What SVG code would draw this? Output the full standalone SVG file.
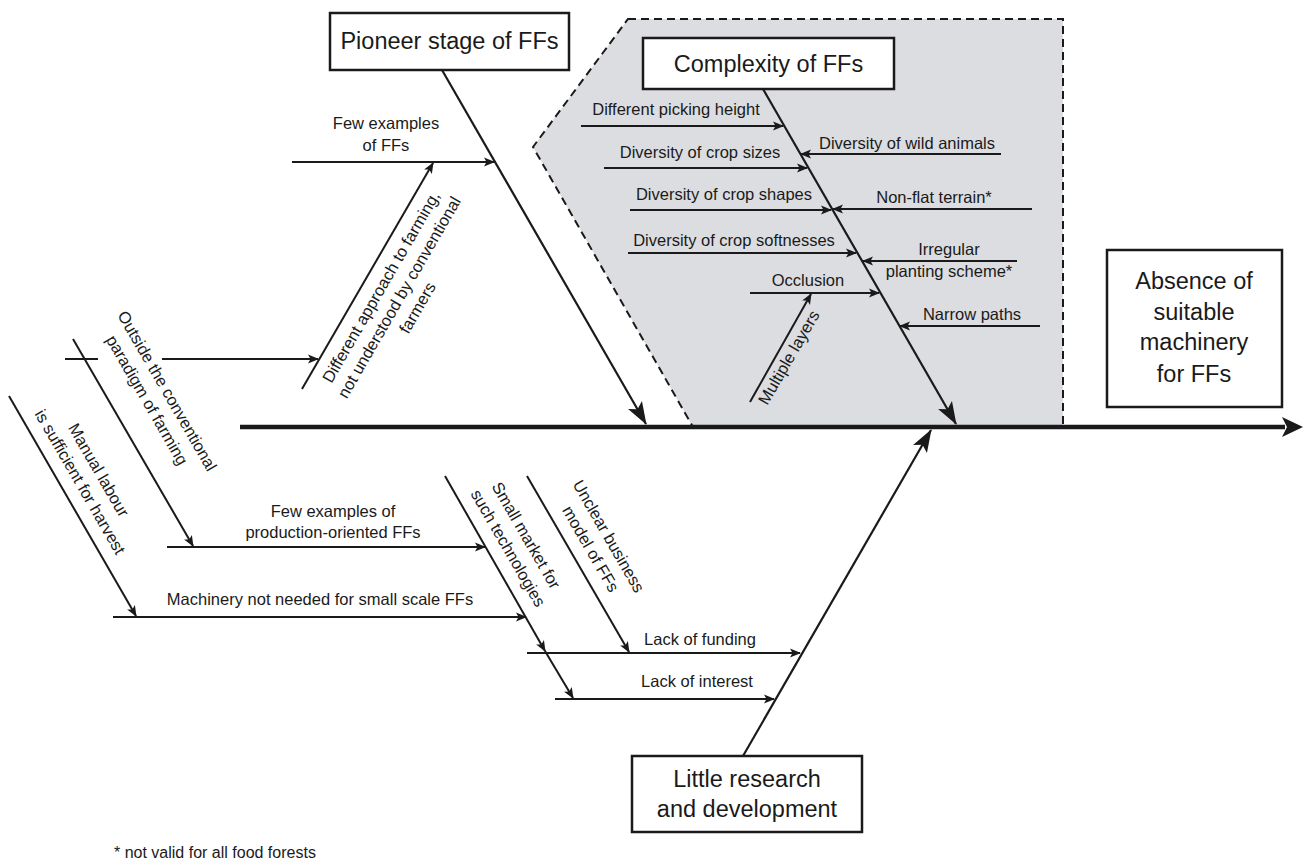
<svg xmlns="http://www.w3.org/2000/svg" width="1304" height="863" viewBox="0 0 1304 863">
<style>
text{font-family:"Liberation Sans",Arial,sans-serif;fill:#1a1a1a}
.lbl{font-size:16.5px;text-anchor:middle}
.big{font-size:23.5px;text-anchor:middle}
.ln{stroke:#1a1a1a;stroke-width:2;fill:none}
.bone{stroke:#1a1a1a;stroke-width:2.2;fill:none}
.box{fill:#fff;stroke:#1a1a1a;stroke-width:2.5}
.sm{marker-end:url(#sa)}
.bg{marker-end:url(#ba)}
</style>
<defs>
<marker id="sa" markerUnits="userSpaceOnUse" markerWidth="12" markerHeight="10" refX="10" refY="4.5" orient="auto" overflow="visible">
<path d="M0,0 L11,4.5 L0,9 L2.5,4.5 Z" fill="#1a1a1a"/>
</marker>
<marker id="ba" markerUnits="userSpaceOnUse" markerWidth="24" markerHeight="16" refX="22" refY="8" orient="auto" overflow="visible">
<path d="M0,0 L23,8 L0,16 L5,8 Z" fill="#1a1a1a"/>
</marker>
</defs>

<g id="complexity-area">
<polygon points="628,19 1063,19 1063,427 693,427 533,147" fill="#dcdde0" stroke="#1a1a1a" stroke-width="2" stroke-dasharray="8,5"/>
</g>

<g id="connectors">
<!-- main spine -->
<line x1="240" y1="427" x2="1285" y2="427" stroke="#1a1a1a" stroke-width="4.5"/>
<path d="M1282,417 L1303,427 L1282,437 L1287,427 Z" fill="#1a1a1a"/>
<!-- main bones -->
<line class="bone bg" x1="442" y1="70" x2="646" y2="424"/>
<line class="bone bg" x1="763" y1="89" x2="956" y2="424"/>
<line class="bone bg" x1="743" y1="756" x2="931" y2="430"/>
<!-- pioneer branches -->
<line class="ln sm" x1="292" y1="162" x2="494" y2="162"/>
<line class="ln sm" x1="302" y1="389" x2="433" y2="163"/>
<line class="ln" x1="65" y1="359" x2="98" y2="359"/>
<line class="ln sm" x1="162" y1="359" x2="318" y2="359"/>
<line class="ln sm" x1="73" y1="339" x2="193" y2="546"/>
<line class="ln sm" x1="9" y1="396" x2="136" y2="616"/>
<!-- complexity branches left -->
<line class="ln sm" x1="581" y1="126" x2="783" y2="126"/>
<line class="ln sm" x1="604" y1="168" x2="807" y2="168"/>
<line class="ln sm" x1="630" y1="210" x2="831" y2="210"/>
<line class="ln sm" x1="628" y1="253" x2="856" y2="253"/>
<line class="ln sm" x1="750" y1="293" x2="879" y2="293"/>
<line class="ln sm" x1="750" y1="402" x2="811" y2="294"/>
<!-- complexity branches right -->
<line class="ln sm" x1="1001" y1="154" x2="801" y2="154"/>
<line class="ln sm" x1="1032" y1="209" x2="833" y2="209"/>
<line class="ln sm" x1="1017" y1="261" x2="863" y2="261"/>
<line class="ln sm" x1="1040" y1="326" x2="900" y2="326"/>
<!-- lower branches -->
<line class="ln sm" x1="167" y1="547" x2="485" y2="547"/>
<line class="ln sm" x1="113" y1="617" x2="526" y2="617"/>
<line class="ln sm" x1="445" y1="476" x2="545" y2="651"/>
<line class="ln sm" x1="545" y1="651" x2="573" y2="698"/>
<line class="ln sm" x1="527" y1="476" x2="629" y2="652"/>
<line class="ln sm" x1="527" y1="653" x2="800" y2="653"/>
<line class="ln sm" x1="555" y1="699" x2="774" y2="699"/>
</g>

<g id="pioneer-stage">
<rect class="box" x="330" y="13" width="239" height="57"/>
<text class="big" x="449.5" y="48.5">Pioneer stage of FFs</text>
</g>

<g id="complexity">
<rect class="box" x="643" y="38" width="251" height="51"/>
<text class="big" x="768.5" y="71.5">Complexity of FFs</text>
</g>

<g id="little-research">
<rect class="box" x="632" y="756" width="230" height="76"/>
<text class="big" x="747" y="787">Little research</text>
<text class="big" x="747" y="817">and development</text>
</g>

<g id="absence">
<rect class="box" x="1107" y="250" width="175" height="157"/>
<text class="big" x="1194" y="289">Absence of</text>
<text class="big" x="1194" y="320">suitable</text>
<text class="big" x="1194" y="350">machinery</text>
<text class="big" x="1194" y="382">for FFs</text>
</g>

<g id="few-examples">
<text class="lbl" x="386" y="129">Few examples</text>
<text class="lbl" x="386" y="151">of FFs</text>
</g>

<g id="different-approach">
<g transform="translate(302,389) rotate(-60)">
<text class="lbl" x="128" y="23">Different approach to farming,</text>
<text class="lbl" x="128" y="44">not understood by conventional</text>
<text class="lbl" x="128" y="65">farmers</text>
</g>
</g>

<g id="outside-paradigm">
<g transform="translate(73,339) rotate(60)">
<text class="lbl" x="92" y="-50">Outside the conventional</text>
<text class="lbl" x="90" y="-28">paradigm of farming</text>
</g>
</g>

<g id="manual-labour">
<g transform="translate(9,396) rotate(60)">
<text class="lbl" x="109" y="-35">Manual labour</text>
<text class="lbl" x="110" y="-13">is sufficient for harvest</text>
</g>
</g>

<g id="few-production">
<text class="lbl" x="333" y="517">Few examples of</text>
<text class="lbl" x="333" y="538">production-oriented FFs</text>
</g>

<g id="machinery-not-needed">
<text class="lbl" x="320" y="605">Machinery not needed for small scale FFs</text>
</g>

<g id="small-market">
<g transform="translate(445,476) rotate(60)">
<text class="lbl" x="92" y="-35">Small market for</text>
<text class="lbl" x="94" y="-13">such technologies</text>
</g>
</g>

<g id="unclear-business">
<g transform="translate(527,476) rotate(60)">
<text class="lbl" x="93" y="-35">Unclear business</text>
<text class="lbl" x="95" y="-13">model of FFs</text>
</g>
</g>

<g id="lack-funding">
<text class="lbl" x="700" y="645">Lack of funding</text>
</g>
<g id="lack-interest">
<text class="lbl" x="697" y="687">Lack of interest</text>
</g>

<g id="picking-height"><text class="lbl" x="676" y="115">Different picking height</text></g>
<g id="crop-sizes"><text class="lbl" x="700" y="158">Diversity of crop sizes</text></g>
<g id="crop-shapes"><text class="lbl" x="724" y="200">Diversity of crop shapes</text></g>
<g id="crop-softnesses"><text class="lbl" x="734" y="246">Diversity of crop softnesses</text></g>
<g id="occlusion"><text class="lbl" x="808" y="286">Occlusion</text></g>
<g id="multiple-layers">
<g transform="translate(750,402) rotate(-60)">
<text class="lbl" x="58" y="17">Multiple layers</text>
</g>
</g>
<g id="wild-animals"><text class="lbl" x="907" y="149">Diversity of wild animals</text></g>
<g id="non-flat"><text class="lbl" x="934" y="203">Non-flat terrain*</text></g>
<g id="irregular">
<text class="lbl" x="949" y="255">Irregular</text>
<text class="lbl" x="949" y="277">planting scheme*</text>
</g>
<g id="narrow-paths"><text class="lbl" x="972" y="320">Narrow paths</text></g>

<g id="footnote">
<text x="114" y="858" style="font-size:16px">* not valid for all food forests</text>
</g>
</svg>
